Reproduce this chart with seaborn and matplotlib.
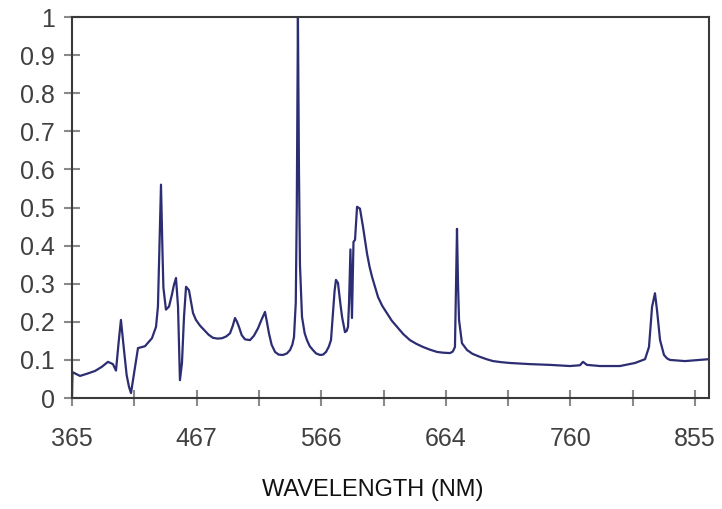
import matplotlib
matplotlib.use("Agg")
import matplotlib.pyplot as plt
import numpy as np
import pandas as pd
import seaborn as sns

# spectrum (nm, relative intensity)
wavelength = [
    365.0, 365.4, 371.3, 377.0, 383.1, 388.5, 393.3, 397.2, 399.6, 401.8,
    403.5, 405.9, 408.0, 409.8, 411.4, 413.8, 416.9, 422.4, 427.9, 431.1,
    432.6, 433.8, 435.0, 436.2, 436.9, 438.9, 441.3, 443.5, 445.2, 446.8,
    448.4, 449.9, 451.5, 453.1, 454.7, 457.0, 460.2, 462.5, 465.7, 469.6,
    472.5, 475.9, 479.5, 483.0, 486.5, 489.3, 491.5, 493.2, 494.8, 496.3,
    498.5, 501.1, 505.0, 508.0, 511.3, 514.0, 516.8, 518.3, 519.9, 522.0,
    524.7, 527.5, 530.9, 534.0, 536.5, 538.3, 539.6, 541.0, 541.8, 542.7,
    543.5, 544.3, 545.9, 546.7, 548.0, 549.8, 552.0, 554.5, 557.0, 560.1,
    562.5, 564.8, 567.0, 568.7, 570.3, 571.5, 572.6, 574.2, 576.0, 577.4,
    579.7, 581.0, 582.1, 582.9, 584.0, 585.2, 586.4, 587.6, 589.2, 591.5,
    593.9, 597.0, 599.0, 601.0, 603.5, 605.7, 609.0, 612.7, 616.5, 620.6,
    625.5, 630.8, 636.0, 641.1, 646.5, 652.1, 657.0, 662.3, 664.5, 666.2,
    667.1, 667.8, 668.6, 669.4, 671.7, 675.7, 680.0, 685.9, 691.0, 696.1,
    703.0, 709.5, 725.2, 740.9, 756.7, 764.5, 766.9, 770.0, 780.3, 796.0,
    807.8, 811.7, 815.7, 818.8, 821.2, 823.5, 825.1, 827.5, 830.6, 833.0,
    835.3, 847.1, 858.9, 866.0,
]
intensity = [
    0.000, 0.068, 0.058, 0.064, 0.071, 0.082, 0.095, 0.089, 0.072, 0.150,
    0.205, 0.126, 0.060, 0.030, 0.013, 0.065, 0.131, 0.136, 0.157, 0.187,
    0.240, 0.400, 0.560, 0.380, 0.290, 0.232, 0.240, 0.270, 0.297, 0.315,
    0.240, 0.047, 0.092, 0.213, 0.292, 0.283, 0.223, 0.205, 0.190, 0.176,
    0.166, 0.158, 0.156, 0.157, 0.162, 0.170, 0.190, 0.210, 0.200, 0.187,
    0.165, 0.154, 0.152, 0.163, 0.183, 0.205, 0.226, 0.200, 0.170, 0.140,
    0.121, 0.114, 0.113, 0.117, 0.126, 0.140, 0.160, 0.250, 0.500, 1.000,
    0.600, 0.350, 0.213, 0.197, 0.170, 0.152, 0.136, 0.126, 0.117, 0.113,
    0.114, 0.121, 0.135, 0.152, 0.223, 0.280, 0.310, 0.302, 0.250, 0.213,
    0.173, 0.176, 0.187, 0.250, 0.390, 0.210, 0.410, 0.415, 0.502, 0.497,
    0.449, 0.380, 0.345, 0.318, 0.290, 0.265, 0.242, 0.223, 0.203, 0.187,
    0.168, 0.152, 0.142, 0.134, 0.127, 0.121, 0.119, 0.118, 0.122, 0.134,
    0.300, 0.444, 0.300, 0.205, 0.144, 0.126, 0.116, 0.108, 0.102, 0.097,
    0.094, 0.092, 0.089, 0.087, 0.084, 0.086, 0.095, 0.087, 0.084, 0.084,
    0.092, 0.097, 0.102, 0.134, 0.239, 0.275, 0.231, 0.152, 0.113, 0.104,
    0.100, 0.097, 0.100, 0.102,
]

x_ticks = [365, 414, 463, 512, 561, 610, 659, 708, 757, 806, 855]
x_tick_labels = ["365", "", "467", "", "566", "", "664", "", "760", "", "855"]
y_ticks = [0, 0.1, 0.2, 0.3, 0.4, 0.5, 0.6, 0.7, 0.8, 0.9, 1.0]
y_tick_labels = ["0", "0.1", "0.2", "0.3", "0.4", "0.5", "0.6", "0.7", "0.8", "0.9", "1"]

sns.set_style("white")
plt.rcParams['font.family'] = ['Liberation Sans', 'DejaVu Sans']

df = pd.DataFrame({"wavelength": wavelength, "intensity": intensity})

fig = plt.figure(figsize=(7.22, 5.09), dpi=100)
ax = fig.add_axes([0.0997, 0.218, 0.8823, 0.7486])

sns.lineplot(data=df, x="wavelength", y="intensity", ax=ax, sort=False,
             estimator=None, color="#2c2d72", linewidth=1.6)

ax.set_xlim(365, 866)
ax.set_ylim(0, 1)
ax.set_xticks(x_ticks)
ax.set_xticklabels(x_tick_labels)
ax.set_yticks(y_ticks)
ax.set_yticklabels(y_tick_labels)

for s in ax.spines.values():
    s.set_visible(True)
    s.set_color("#3a3a3a")
    s.set_linewidth(1.5)

ax.tick_params(axis="y", direction="inout", length=11, width=1.5, color="#8a8a8a",
               labelsize=18, labelcolor="#404040", pad=7, left=True)
ax.tick_params(axis="x", direction="inout", length=11, width=1.5, color="#8a8a8a",
               labelsize=18, labelcolor="#404040", pad=15, bottom=True)

ax.set_ylabel("")
ax.set_xlabel("WAVELENGTH (NM)", fontsize=17, color="#111111")
ax.xaxis.set_label_coords(0.4725, -0.212)

plt.savefig("out.png", dpi=100)
plt.close()
